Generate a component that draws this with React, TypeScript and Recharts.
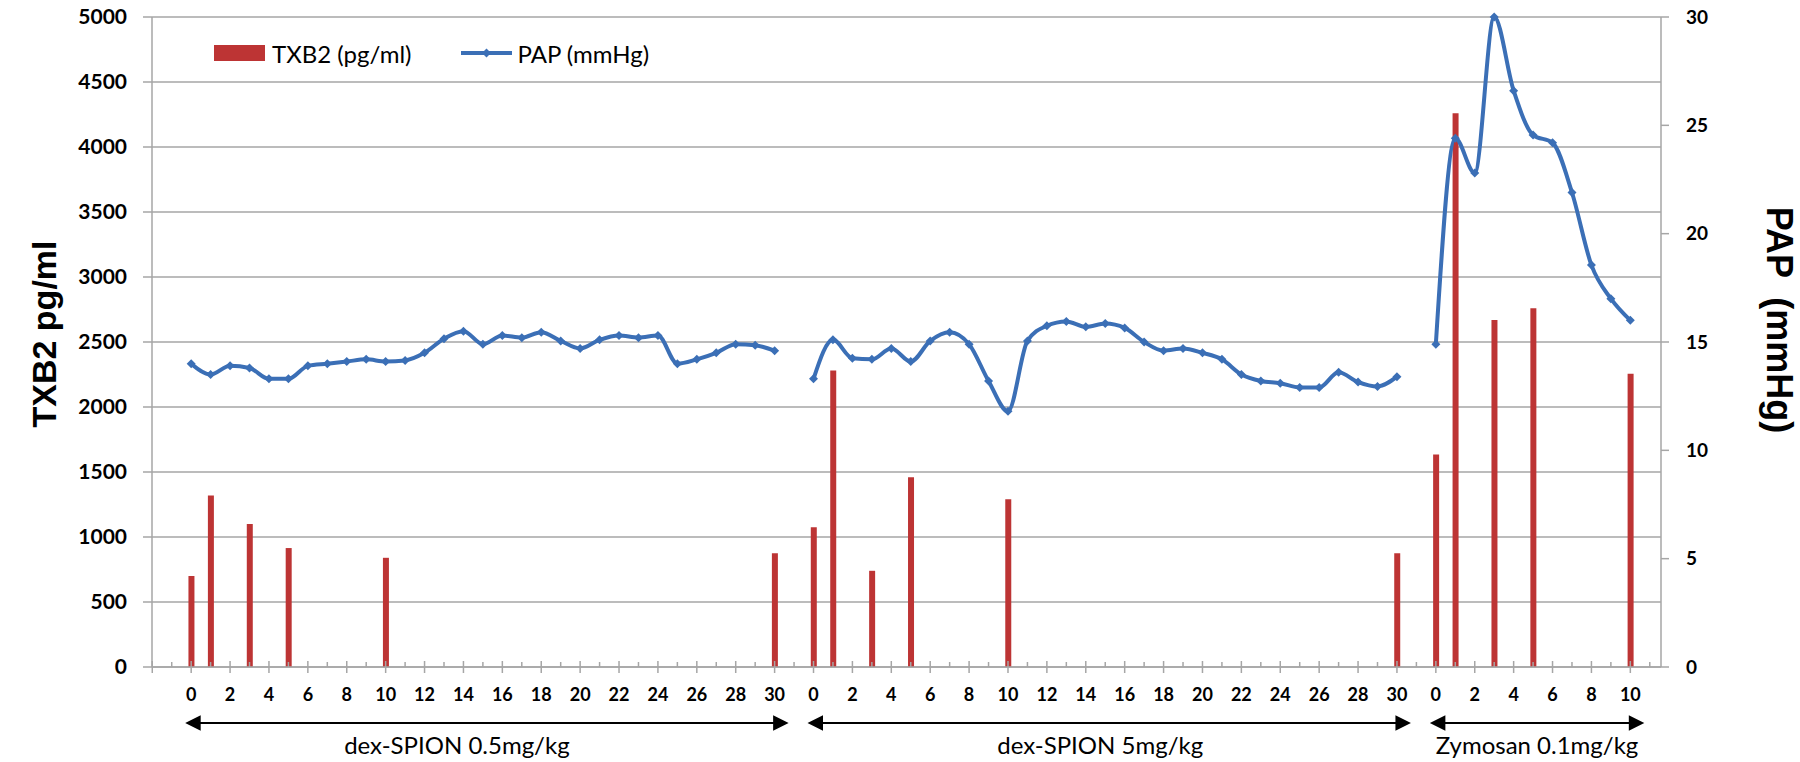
import { ComposedChart, Bar, Line, XAxis, YAxis, CartesianGrid } from 'recharts';

// sampling times (min) for each protocol segment
const seg1Times = [0, 1, 2, 3, 4, 5, 6, 7, 8, 9, 10, 11, 12, 13, 14, 15, 16, 17, 18, 19, 20, 21, 22, 23, 24, 25, 26, 27, 28, 29, 30];
const seg2Times = [0, 1, 2, 3, 4, 5, 6, 7, 8, 9, 10, 11, 12, 13, 14, 15, 16, 17, 18, 19, 20, 21, 22, 23, 24, 25, 26, 27, 28, 29, 30];
const seg3Times = [0, 1, 2, 3, 4, 5, 6, 7, 8, 9, 10];

// PAP (mmHg)
const papSeg1 = [14.0, 13.5, 13.9, 13.8, 13.3, 13.3, 13.9, 14.0, 14.1, 14.2, 14.1, 14.15, 14.5, 15.15, 15.5, 14.9, 15.3, 15.2, 15.45, 15.05, 14.7, 15.1, 15.3, 15.2, 15.3, 14.0, 14.2, 14.5, 14.9, 14.85, 14.6];
const papSeg2 = [13.3, 15.1, 14.25, 14.2, 14.7, 14.1, 15.05, 15.45, 14.9, 13.2, 11.8, 15.05, 15.75, 15.95, 15.7, 15.85, 15.65, 15.0, 14.6, 14.7, 14.5, 14.2, 13.5, 13.2, 13.1, 12.9, 12.9, 13.6, 13.15, 12.95, 13.4];
const papSeg3 = [14.9, 24.4, 22.8, 30.0, 26.6, 24.55, 24.2, 21.9, 18.55, 17.0, 16.0];

// TXB2 (pg/ml), only measured at some times
const txbSeg1Times = [0, 1, 3, 5, 10, 30];
const txbSeg1 = [700, 1320, 1100, 915, 840, 875];
const txbSeg2Times = [0, 1, 3, 5, 10, 30];
const txbSeg2 = [1075, 2280, 740, 1460, 1290, 875];
const txbSeg3Times = [0, 1, 3, 5, 10];
const txbSeg3 = [1635, 4260, 2670, 2760, 2255];

const segLabels = ['dex-SPION 0.5mg/kg', 'dex-SPION 5mg/kg', 'Zymosan 0.1mg/kg'];

const leftTicks = [0, 500, 1000, 1500, 2000, 2500, 3000, 3500, 4000, 4500, 5000];
const rightTicks = [0, 5, 10, 15, 20, 25, 30];

const RED = '#bd3434';
const BLUE = '#3b6fb6';
const GRID = '#a6a6a6';
const FONT = 'Lato, "Open Sans", sans-serif';

const PLOT_LEFT = 152;
const PLOT_RIGHT = 1661;
const PAD_L = 10;
const PAD_R = 1.5;
// the group captions are not quite centred under their arrows in the original
const LABEL_SHIFT = [-30, -9, 0];

type Row = { key: string; label: string; txb2: number | null; pap: number | null; seg: number; first: boolean; n: number };

const segs = [
  { times: seg1Times, pap: papSeg1, tt: txbSeg1Times, tv: txbSeg1 },
  { times: seg2Times, pap: papSeg2, tt: txbSeg2Times, tv: txbSeg2 },
  { times: seg3Times, pap: papSeg3, tt: txbSeg3Times, tv: txbSeg3 },
];

const rows: Row[] = [];
const blank = (id: string) => rows.push({ key: id, label: '', txb2: null, pap: null, seg: -1, first: false, n: 0 });
blank('b0');
segs.forEach((s, si) => {
  s.times.forEach((t, i) => {
    const k = s.tt.indexOf(t);
    rows.push({
      key: `s${si}-${t}`,
      label: String(t),
      txb2: k >= 0 ? s.tv[k] : null,
      pap: s.pap[i],
      seg: si,
      first: i === 0,
      n: s.times.length,
    });
  });
  blank(`b${si + 1}`);
});

const BAND = (PLOT_RIGHT - PLOT_LEFT - PAD_L - PAD_R) / rows.length;

function TimeTick(props: any) {
  const { x, y, index } = props;
  const row = rows[index];
  if (!row) return null;
  const major = index % 2 === 1;
  const ay = y + 56;
  const els: any[] = [];
  els.push(
    <line key="t" x1={x} x2={x} y1={major ? y - 6 : y - 5} y2={major ? y + 6 : y} stroke={GRID} strokeWidth={1.5} />
  );
  if (index === 0) {
    els.push(<line key="t0" x1={x - BAND} x2={x - BAND} y1={y - 6} y2={y + 6} stroke={GRID} strokeWidth={1.5} />);
  }
  if (major && row.label !== '') {
    els.push(
      <text key="l" x={x} y={y + 34} textAnchor="middle" fontFamily={FONT} fontWeight={700} fontSize={18} fill="#000">
        {row.label}
      </text>
    );
  }
  if (row.first) {
    const x0 = x - 6;
    const x1 = x + (row.n - 1) * BAND + 14;
    els.push(
      <g key="a">
        <line x1={x0 + 10} x2={x1 - 10} y1={ay} y2={ay} stroke="#000" strokeWidth={2.2} />
        <path d={`M${x0},${ay}L${x0 + 15.5},${ay - 7.8}L${x0 + 15.5},${ay + 7.8}Z`} fill="#000" />
        <path d={`M${x1},${ay}L${x1 - 15.5},${ay - 7.8}L${x1 - 15.5},${ay + 7.8}Z`} fill="#000" />
        <text x={(x0 + x1) / 2 + LABEL_SHIFT[row.seg]} y={y + 87} textAnchor="middle" fontFamily={FONT} fontSize={24} fill="#000">
          {segLabels[row.seg]}
        </text>
      </g>
    );
  }
  return <g>{els}</g>;
}

function Diamond(props: any) {
  const { cx, cy, value, index } = props;
  if (cx == null || cy == null || value == null) return <g key={`d${index}`} />;
  const r = 4.5;
  return <path key={`d${index}`} d={`M${cx},${cy - r}L${cx + r},${cy}L${cx},${cy + r}L${cx - r},${cy}Z`} fill={BLUE} />;
}

function LeftTitle(props: any) {
  const vb = props.viewBox || { x: 0, y: 17, height: 650 };
  const cx = vb.x + 56;
  const cy = vb.y + vb.height / 2 - 8;
  return (
    <text x={cx} y={cy} transform={`rotate(-90 ${cx} ${cy})`} textAnchor="middle" fontFamily='"Liberation Sans", Arial, sans-serif' fontWeight={700} fontSize={34} fill="#000">
      TXB2 pg/ml
    </text>
  );
}

function RightTitle(props: any) {
  const vb = props.viewBox || { x: 1661, y: 17, height: 650 };
  const cx = vb.x + 106;
  const cy = vb.y + vb.height / 2 - 22;
  return (
    <text x={cx} y={cy} transform={`rotate(90 ${cx} ${cy})`} textAnchor="middle" fontFamily='"Liberation Sans", Arial, sans-serif' fontWeight={700} fontSize={36} fill="#000" style={{ whiteSpace: 'pre' }}>
      {'PAP  (mmHg)'}
    </text>
  );
}

export default function App() {
  return (
    <div style={{ position: 'absolute', left: 0, top: 0, width: 1800, height: 762, background: '#fff' }}>
      <ComposedChart width={1800} height={762} data={rows} margin={{ top: 17, right: 0, bottom: 0, left: 0 }}>
        <CartesianGrid yAxisId="left" vertical={false} stroke={GRID} strokeWidth={1.5} />
        <XAxis
          dataKey="key"
          type="category"
          interval={0}
          height={95}
          padding={{ left: PAD_L, right: PAD_R }}
          tickLine={false}
          tickSize={0}
          tickMargin={0}
          axisLine={{ stroke: GRID, strokeWidth: 1.5 }}
          tick={<TimeTick />}
        />
        <YAxis
          yAxisId="left"
          width={152}
          domain={[0, 5000]}
          ticks={leftTicks}
          interval={0}
          tickSize={9}
          tickMargin={16}
          axisLine={{ stroke: GRID, strokeWidth: 1.5 }}
          tickLine={{ stroke: GRID, strokeWidth: 1.5 }}
          tick={{ fontFamily: FONT, fontWeight: 700, fontSize: 21, fill: '#000' }}
          label={<LeftTitle />}
        />
        <YAxis
          yAxisId="right"
          orientation="right"
          width={139}
          domain={[0, 30]}
          ticks={rightTicks}
          interval={0}
          tickSize={8}
          tickMargin={17}
          axisLine={{ stroke: GRID, strokeWidth: 1.5 }}
          tickLine={{ stroke: GRID, strokeWidth: 1.5 }}
          tick={{ fontFamily: FONT, fontWeight: 700, fontSize: 19, fill: '#000' }}
          label={<RightTitle />}
        />
        <Bar yAxisId="left" dataKey="txb2" name="TXB2 (pg/ml)" fill={RED} barSize={6} isAnimationActive={false} />
        <Line
          yAxisId="right"
          dataKey="pap"
          name="PAP (mmHg)"
          type="monotone"
          stroke={BLUE}
          strokeWidth={4}
          dot={Diamond}
          activeDot={false}
          connectNulls={false}
          isAnimationActive={false}
        />
      </ComposedChart>
      <div style={{ position: 'absolute', left: 214, top: 40, height: 26, display: 'flex', alignItems: 'center', fontFamily: FONT, fontSize: 24, color: '#000', whiteSpace: 'nowrap' }}>
        <svg width={51} height={16} style={{ display: 'block' }}>
          <rect x={0} y={0} width={51} height={16} fill={RED} />
        </svg>
        <span style={{ marginLeft: 7 }}>TXB2 (pg/ml)</span>
        <svg width={51} height={16} style={{ display: 'block', marginLeft: 50 }}>
          <line x1={0} x2={51} y1={8} y2={8} stroke={BLUE} strokeWidth={4} />
          <path d="M25.5,3.5L30,8L25.5,12.5L21,8Z" fill={BLUE} />
        </svg>
        <span style={{ marginLeft: 5 }}>PAP (mmHg)</span>
      </div>
    </div>
  );
}
